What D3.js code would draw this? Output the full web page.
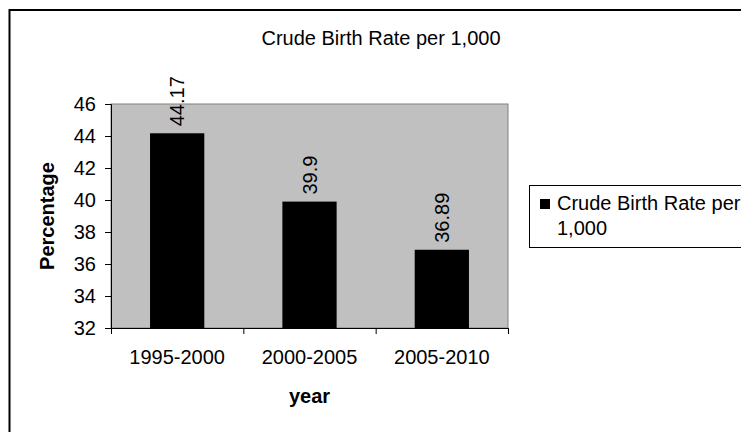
<!DOCTYPE html>
<html>
<head>
<meta charset="utf-8">
<script src="https://cdn.jsdelivr.net/npm/d3@7"></script>
<style>
  body { margin: 0; background: #fff; }
  text { font-family: "Liberation Sans", Arial, sans-serif; fill: #000; }
</style>
</head>
<body>
<div id="theChart"></div>
<script>
var categories = ['1995-2000', '2000-2005', '2005-2010']
var values = [44.17, 39.9, 36.89]
var yTicks = [32, 34, 36, 38, 40, 42, 44, 46]
var title = 'Crude Birth Rate per 1,000'
var seriesName = ['Crude Birth Rate per', '1,000']

var svg = d3.select('#theChart').append('svg')
  .attr('width', 741).attr('height', 432)

// outer chart border (runs off the right / bottom edge)
svg.append('rect')
  .attr('x', 9.5).attr('y', 10).attr('width', 760).attr('height', 440)
  .attr('fill', '#fff').attr('stroke', '#000').attr('stroke-width', 2)

// plot box -- note: "top" is a reserved window prop, so use pTop etc
var pLeft = 111, pRight = 508, pTop = 104, pBottom = 328

var x = d3.scaleBand().domain(categories).range([pLeft, pRight])
  .paddingInner(0.59).paddingOuter(0.295)
var xEdge = d3.scaleLinear().domain([0, categories.length]).range([pLeft, pRight])
var y = d3.scaleLinear().domain([32, 46]).range([pBottom, pTop])

// plot area
svg.append('rect')
  .attr('x', pLeft).attr('y', pTop).attr('width', pRight - pLeft).attr('height', pBottom - pTop)
  .attr('fill', '#c0c0c0').attr('stroke', '#808080').attr('stroke-width', 1)

// bars
svg.selectAll('rect.bar').data(values).enter().append('rect')
  .attr('class', 'bar')
  .attr('x', (d, i) => x(categories[i]))
  .attr('width', x.bandwidth())
  .attr('y', d => y(d))
  .attr('height', d => y(32) - y(d))
  .attr('fill', '#000')

// value labels
svg.selectAll('text.val').data(values).enter().append('text')
  .attr('class', 'val')
  .attr('transform', (d, i) => 'translate(' + (x(categories[i]) + x.bandwidth() / 2) + ',' + (y(d) - 7) + ') rotate(-90)')
  .attr('dy', '0.35em')
  .style('font-size', '20px')
  .text(d => d)

// y axis
var yAxis = svg.append('g')
  .attr('transform', 'translate(' + pLeft + ',0)')
  .call(d3.axisLeft(y).tickValues(yTicks).tickSize(6).tickPadding(9).tickFormat(d3.format('d')))
yAxis.select('.domain').attr('stroke', '#000')
yAxis.selectAll('text').style('font-size', '20px').style('font-family', '"Liberation Sans", Arial, sans-serif')

// x axis: tick marks at category edges, labels centred
var xAxis = svg.append('g')
  .attr('transform', 'translate(0,' + pBottom + ')')
  .call(d3.axisBottom(xEdge).tickValues(d3.range(categories.length + 1)).tickSize(6).tickFormat(''))
xAxis.select('.domain').attr('stroke', '#000')

var xLabels = svg.append('g')
  .attr('transform', 'translate(0,' + pBottom + ')')
  .call(d3.axisBottom(x).tickSize(0).tickPadding(22))
xLabels.select('.domain').remove()
xLabels.selectAll('text').style('font-size', '20px').style('font-family', '"Liberation Sans", Arial, sans-serif')

// titles
svg.append('text')
  .attr('x', 381).attr('y', 45)
  .attr('text-anchor', 'middle')
  .style('font-size', '20px')
  .text(title)

svg.append('text')
  .attr('transform', 'translate(54,' + (pTop + pBottom) / 2 + ') rotate(-90)')
  .attr('text-anchor', 'middle')
  .style('font-size', '20px').style('font-weight', 'bold')
  .text('Percentage')

svg.append('text')
  .attr('x', (pLeft + pRight) / 2).attr('y', 403)
  .attr('text-anchor', 'middle')
  .style('font-size', '20px').style('font-weight', 'bold')
  .text('year')

// legend
var legend = svg.append('g')
legend.append('rect')
  .attr('x', 529.5).attr('y', 185.5).attr('width', 240).attr('height', 62)
  .attr('fill', '#fff').attr('stroke', '#000').attr('stroke-width', 1)
legend.append('rect')
  .attr('x', 540).attr('y', 199).attr('width', 10).attr('height', 10)
  .attr('fill', '#000')
legend.selectAll('text.leg').data(seriesName).enter().append('text')
  .attr('class', 'leg')
  .attr('x', 557).attr('y', (d, i) => 210 + i * 25)
  .style('font-size', '20px')
  .text(d => d)
</script>
</body>
</html>
